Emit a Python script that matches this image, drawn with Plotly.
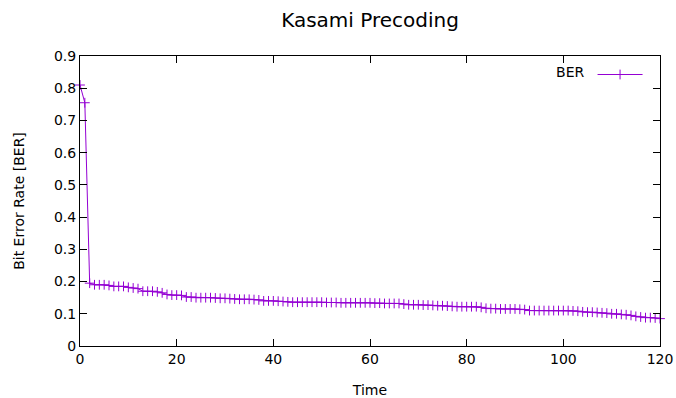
import plotly.graph_objects as go

time = list(range(0, 121))
ber = [
    0.81, 0.755, 0.195, 0.19, 0.19, 0.19, 0.188, 0.185, 0.185, 0.185,
    0.182, 0.18, 0.178, 0.17, 0.17, 0.17, 0.168, 0.165, 0.16, 0.158,
    0.158, 0.157, 0.152, 0.152, 0.15, 0.15, 0.15, 0.15, 0.149, 0.148,
    0.148, 0.147, 0.146, 0.145, 0.145, 0.145, 0.144, 0.143, 0.14, 0.14,
    0.14, 0.139, 0.138, 0.137, 0.136, 0.136, 0.136, 0.136, 0.136, 0.136,
    0.136, 0.135, 0.135, 0.135, 0.134, 0.134, 0.134, 0.134, 0.134, 0.134,
    0.134, 0.133, 0.133, 0.132, 0.132, 0.132, 0.132, 0.13, 0.128, 0.128,
    0.128, 0.127, 0.127, 0.126, 0.125, 0.125, 0.124, 0.123, 0.122, 0.122,
    0.122, 0.122, 0.122, 0.12, 0.117, 0.116, 0.116, 0.115, 0.115, 0.115,
    0.115, 0.114, 0.113, 0.11, 0.11, 0.11, 0.11, 0.11, 0.11, 0.11,
    0.11, 0.11, 0.109, 0.108, 0.106, 0.105, 0.105, 0.104, 0.103, 0.102,
    0.1, 0.1, 0.098, 0.097, 0.095, 0.092, 0.09, 0.088, 0.088, 0.087,
    0.085,
]
x_ticks = [0, 20, 40, 60, 80, 100, 120]
y_ticks = [0, 0.1, 0.2, 0.3, 0.4, 0.5, 0.6, 0.7, 0.8, 0.9]

color = "#9400D3"
font = "DejaVu Sans"

fig = go.Figure()
fig.add_trace(go.Scatter(
    x=time, y=ber, mode="lines+markers", name=" ",
    line=dict(color=color, width=1),
    marker=dict(symbol="cross-thin", size=7, line=dict(color=color, width=1)),
    showlegend=True, cliponaxis=False,
))

axis_common = dict(
    showline=True, linecolor="black", linewidth=1, mirror="allticks",
    ticks="inside", ticklen=7, tickcolor="black", showgrid=False, zeroline=False,
    tickfont=dict(family=font, size=14, color="black"), automargin=False,
)

fig.update_layout(
    width=676, height=398,
    margin=dict(l=80, r=16, t=56, b=52),
    paper_bgcolor="white", plot_bgcolor="white",
    font=dict(family=font, color="black"),
    title=dict(text="Kasami Precoding", x=0.5474, xanchor="center", y=0.95, yanchor="middle",
               font=dict(family=font, size=20, color="black")),
    xaxis=dict(range=[0, 120], tickvals=x_ticks, ticktext=[str(v) for v in x_ticks],
               title=dict(text="Time", font=dict(family=font, size=14), standoff=21), **axis_common),
    yaxis=dict(range=[0, 0.9], tickvals=y_ticks, ticktext=["0", "0.1", "0.2", "0.3", "0.4", "0.5", "0.6", "0.7", "0.8", "0.9"],
               title=dict(text="Bit Error Rate [BER]", font=dict(family=font, size=14), standoff=26), **axis_common),
    legend=dict(x=0.995, y=0.99, xanchor="right", yanchor="top", bgcolor="rgba(0,0,0,0)",
                itemwidth=45,
                title=dict(text="BER", side="left", font=dict(family=font, size=14)),
                font=dict(family=font, size=14)),
)

fig.write_html(
    "out.html",
    config={"displayModeBar": False},
    post_script="document.body.style.margin='0';document.body.style.overflow='hidden';",
)
